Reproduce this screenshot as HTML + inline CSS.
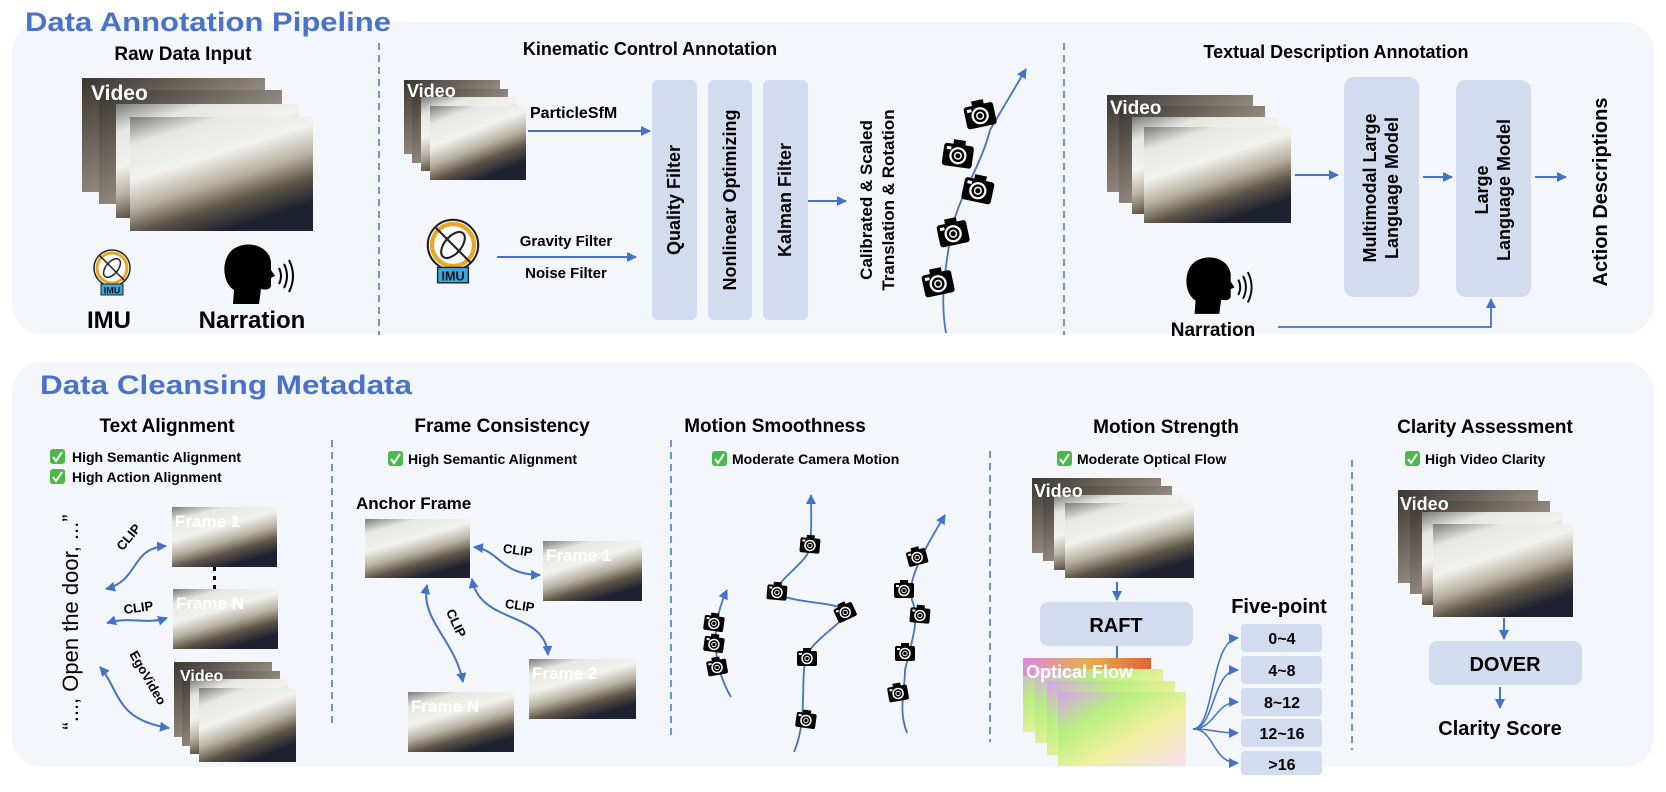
<!DOCTYPE html>
<html><head><meta charset="utf-8"><style>
html,body{margin:0;padding:0;background:#fff;}
svg{display:block;font-family:"Liberation Sans",Arial,sans-serif;}
.t{font-weight:bold;fill:#000;}
.fl{font-weight:bold;fill:#fff;font-size:17px;}
</style></head><body>
<svg width="1666" height="792" viewBox="0 0 1666 792" xmlns="http://www.w3.org/2000/svg">
<defs>
<marker id="a" markerWidth="10" markerHeight="10" refX="9" refY="5" orient="auto-start-reverse" markerUnits="userSpaceOnUse"><path d="M0,0 L10,5 L0,10 Z" fill="#4472c4"/></marker>
<linearGradient id="fr" x1="0" y1="0" x2="0.5" y2="1">
<stop offset="0" stop-color="#7a7a7a"/><stop offset="0.2" stop-color="#e6e6e2"/><stop offset="0.45" stop-color="#f2f2ee"/><stop offset="0.65" stop-color="#b8b0a0"/><stop offset="0.82" stop-color="#5e5548"/><stop offset="1" stop-color="#1e2230"/></linearGradient>
<linearGradient id="bk" x1="0" y1="0" x2="1" y2="1">
<stop offset="0" stop-color="#3a3530"/><stop offset="0.5" stop-color="#8a8278"/><stop offset="1" stop-color="#cfcac2"/></linearGradient>
<linearGradient id="of" x1="0" y1="0" x2="1" y2="1">
<stop offset="0" stop-color="#d9a0f0"/><stop offset="0.3" stop-color="#b8f080"/><stop offset="0.6" stop-color="#f0f0a0"/><stop offset="1" stop-color="#f8e0f0"/></linearGradient>
<linearGradient id="of2" x1="0" y1="0" x2="1" y2="0">
<stop offset="0" stop-color="#e080e0"/><stop offset="0.5" stop-color="#f0a040"/><stop offset="1" stop-color="#e04020"/></linearGradient>
<g id="cam"><rect x="-10" y="-7" width="20" height="15" rx="2" fill="#000"/><rect x="-4" y="-10" width="8" height="4" fill="#000"/><circle cx="0" cy="0.5" r="5" fill="#000" stroke="#fff" stroke-width="1.5"/><circle cx="0" cy="0.5" r="2.2" fill="none" stroke="#fff" stroke-width="1"/><rect x="-8" y="-5" width="3" height="2" fill="#fff"/></g>
<g id="imu"><circle cx="0" cy="0" r="18" fill="#fff" stroke="#222" stroke-width="1.5"/><circle cx="0" cy="0" r="15" fill="none" stroke="#e8a826" stroke-width="3"/><ellipse cx="0" cy="0" rx="6" ry="11" transform="rotate(40)" fill="none" stroke="#222" stroke-width="1.5"/><line x1="-13" y1="-13" x2="13" y2="13" stroke="#222" stroke-width="1.5"/><rect x="-11" y="16" width="22" height="11" fill="#3aa8e0" stroke="#222" stroke-width="1"/><text x="0" y="25.5" font-size="9" text-anchor="middle" fill="#111" font-weight="bold">IMU</text></g>
<g id="head"><path d="M8 62 L9 48 C-4 40 -4 14 10 6 C24 -2 44 4 46 20 L46 28 L50 34 L46 36 L46 44 C45 48 40 48 36 47 L34 62 Z" fill="#000"/><path d="M54 26 Q58 34 54 42" stroke="#000" stroke-width="2" fill="none"/><path d="M59 22 Q65 34 59 46" stroke="#000" stroke-width="2" fill="none"/><path d="M64 18 Q72 34 64 50" stroke="#000" stroke-width="2" fill="none"/></g>
<g id="chk"><rect x="0" y="0" width="15" height="15" rx="3" fill="#4cb84a"/><path d="M3 8 L6 12 L12 3" stroke="#fff" stroke-width="2" fill="none"/></g>
</defs>

<rect x="12" y="22" width="1642" height="312" rx="30" fill="#f3f6fb"/>
<rect x="12" y="362" width="1642" height="405" rx="30" fill="#f3f6fb"/>
<text x="25" y="31" font-size="27" font-weight="bold" fill="#4a72c8" textLength="366" lengthAdjust="spacingAndGlyphs">Data Annotation Pipeline</text>
<text x="40" y="394" font-size="27" font-weight="bold" fill="#4a72c8" textLength="372" lengthAdjust="spacingAndGlyphs">Data Cleansing Metadata</text>

<g stroke="#4472c4" stroke-width="1.5" stroke-dasharray="7,5">
<line x1="379" y1="43" x2="379" y2="335"/><line x1="1064" y1="43" x2="1064" y2="335"/>
<line x1="332" y1="440" x2="332" y2="728"/><line x1="671" y1="440" x2="671" y2="738"/>
<line x1="990" y1="451" x2="990" y2="742"/><line x1="1352" y1="460" x2="1352" y2="750"/>
</g>

<text class="t" x="183" y="60" font-size="19" text-anchor="middle">Raw Data Input</text>
<rect x="82" y="78" width="183" height="114" fill="url(#bk)"/>
<rect x="99" y="90" width="183" height="114" fill="url(#bk)"/>
<rect x="116" y="104" width="183" height="114" fill="url(#fr)"/>
<rect x="130" y="117" width="183" height="114" fill="url(#fr)"/>
<text x="91" y="100" font-size="21" font-weight="bold" fill="#fff">Video</text>
<use href="#imu" transform="translate(112 268)"/>
<text class="t" x="109" y="328" font-size="24" text-anchor="middle">IMU</text>
<use href="#head" transform="translate(225 242)"/>
<text class="t" x="252" y="328" font-size="24" text-anchor="middle">Narration</text>

<text class="t" x="650" y="55" font-size="18" text-anchor="middle">Kinematic Control Annotation</text>
<rect x="404" y="80" width="96" height="74" fill="url(#bk)"/>
<rect x="412" y="89" width="96" height="74" fill="url(#bk)"/>
<rect x="421" y="97" width="96" height="74" fill="url(#fr)"/>
<rect x="430" y="106" width="96" height="74" fill="url(#fr)"/>
<text x="407" y="97" font-size="18" font-weight="bold" fill="#fff">Video</text>
<text class="t" x="530" y="118" font-size="16">ParticleSfM</text>
<line x1="528" y1="131" x2="650" y2="131" stroke="#4472c4" stroke-width="2" marker-end="url(#a)"/>
<use href="#imu" transform="translate(453 245) scale(1.4)"/>
<text class="t" x="566" y="246" font-size="15" text-anchor="middle">Gravity Filter</text>
<line x1="497" y1="257" x2="636" y2="257" stroke="#4472c4" stroke-width="2" marker-end="url(#a)"/>
<text class="t" x="566" y="278" font-size="15" text-anchor="middle">Noise Filter</text>
<rect x="652" y="80" width="45" height="240" rx="6" fill="#d3dbee"/>
<rect x="708" y="80" width="44" height="240" rx="6" fill="#d3dbee"/>
<rect x="763" y="80" width="45" height="240" rx="6" fill="#d3dbee"/>
<text class="t" font-size="18" text-anchor="middle" dominant-baseline="central" transform="translate(674 200) rotate(-90)">Quality Filter</text>
<text class="t" font-size="18" text-anchor="middle" dominant-baseline="central" transform="translate(730 200) rotate(-90)">Nonlinear Optimizing</text>
<text class="t" font-size="18" text-anchor="middle" dominant-baseline="central" transform="translate(785 200) rotate(-90)">Kalman Filter</text>
<line x1="808" y1="201" x2="846" y2="201" stroke="#4472c4" stroke-width="2" marker-end="url(#a)"/>
<text class="t" font-size="17" text-anchor="middle" transform="translate(872 200) rotate(-90)">Calibrated &amp; Scaled</text>
<text class="t" font-size="17" text-anchor="middle" transform="translate(894 200) rotate(-90)">Translation &amp; Rotation</text>
<path d="M946 333 C940 300 945 270 950 240 C955 200 980 170 990 130 L1026 69" stroke="#4472c4" stroke-width="1.8" fill="none" marker-end="url(#a)"/>
<use href="#cam" transform="translate(938 283) rotate(-12) scale(1.5)"/>
<use href="#cam" transform="translate(953 233) rotate(-12) scale(1.5)"/>
<use href="#cam" transform="translate(978 190) rotate(12) scale(1.5)"/>
<use href="#cam" transform="translate(958 155) rotate(8) scale(1.5)"/>
<use href="#cam" transform="translate(980 115) rotate(-12) scale(1.5)"/>

<text class="t" x="1336" y="58" font-size="18" text-anchor="middle">Textual Description Annotation</text>
<rect x="1107" y="95" width="146" height="97" fill="url(#bk)"/>
<rect x="1119" y="106" width="146" height="97" fill="url(#bk)"/>
<rect x="1132" y="117" width="146" height="97" fill="url(#fr)"/>
<rect x="1144" y="127" width="147" height="96" fill="url(#fr)"/>
<text x="1110" y="114" font-size="19" font-weight="bold" fill="#fff">Video</text>
<line x1="1295" y1="175" x2="1338" y2="175" stroke="#4472c4" stroke-width="2" marker-end="url(#a)"/>
<rect x="1344" y="77" width="75" height="220" rx="10" fill="#d3dbee"/>
<text class="t" font-size="18" text-anchor="middle" transform="translate(1376 188) rotate(-90)">Multimodal Large</text>
<text class="t" font-size="18" text-anchor="middle" transform="translate(1398 188) rotate(-90)">Language Model</text>
<line x1="1423" y1="177" x2="1452" y2="177" stroke="#4472c4" stroke-width="2" marker-end="url(#a)"/>
<rect x="1456" y="80" width="75" height="217" rx="10" fill="#d3dbee"/>
<text class="t" font-size="18" text-anchor="middle" transform="translate(1488 190) rotate(-90)">Large</text>
<text class="t" font-size="18" text-anchor="middle" transform="translate(1510 190) rotate(-90)">Language Model</text>
<line x1="1535" y1="177" x2="1566" y2="177" stroke="#4472c4" stroke-width="2" marker-end="url(#a)"/>
<text class="t" font-size="20" text-anchor="middle" transform="translate(1607 192) rotate(-90)">Action Descriptions</text>
<use href="#head" transform="translate(1187 255) scale(0.95)"/>
<text class="t" x="1213" y="336" font-size="19" text-anchor="middle">Narration</text>
<path d="M1278 327 L1491 327 L1491 299" stroke="#4472c4" stroke-width="1.8" fill="none" marker-end="url(#a)"/>

<text class="t" x="167" y="432" font-size="19" text-anchor="middle">Text Alignment</text>
<use href="#chk" x="50" y="449"/><text class="t" x="72" y="462" font-size="14">High Semantic Alignment</text>
<use href="#chk" x="50" y="469"/><text class="t" x="72" y="482" font-size="14">High Action Alignment</text>
<text font-size="22" text-anchor="middle" transform="translate(78 622) rotate(-90)" fill="#000">“..., Open the door, ...”</text>
<rect x="172" y="507" width="105" height="60" fill="url(#fr)"/>
<text class="fl" x="175" y="527">Frame 1</text>
<g fill="#000"><rect x="213" y="567" width="3" height="4"/><rect x="213" y="576" width="3" height="4"/><rect x="213" y="585" width="3" height="4"/></g>
<rect x="173" y="589" width="105" height="60" fill="url(#fr)"/>
<text class="fl" x="176" y="609">Frame N</text>
<rect x="174" y="662" width="98" height="75" fill="url(#bk)"/>
<rect x="182" y="671" width="98" height="75" fill="url(#bk)"/>
<rect x="190" y="679" width="98" height="75" fill="url(#fr)"/>
<rect x="199" y="688" width="97" height="74" fill="url(#fr)"/>
<text x="180" y="681" font-size="16" font-weight="bold" fill="#fff">Video</text>
<path d="M106 589 C140 580 130 548 166 546" stroke="#4472c4" stroke-width="2" fill="none" marker-start="url(#a)" marker-end="url(#a)"/>
<text class="t" font-size="13" text-anchor="middle" transform="translate(132 540) rotate(-50)">CLIP</text>
<path d="M107 623 C130 616 145 625 167 618" stroke="#4472c4" stroke-width="2" fill="none" marker-start="url(#a)" marker-end="url(#a)"/>
<text class="t" font-size="13" text-anchor="middle" transform="translate(139 612) rotate(-8)">CLIP</text>
<path d="M100 667 C120 690 115 720 169 728" stroke="#4472c4" stroke-width="2" fill="none" marker-start="url(#a)" marker-end="url(#a)"/>
<text class="t" font-size="13" text-anchor="middle" transform="translate(144 680) rotate(60)">EgoVideo</text>

<text class="t" x="502" y="432" font-size="19" text-anchor="middle">Frame Consistency</text>
<use href="#chk" x="388" y="451"/><text class="t" x="408" y="464" font-size="14">High Semantic Alignment</text>
<text class="t" x="356" y="509" font-size="17">Anchor Frame</text>
<rect x="365" y="519" width="105" height="59" fill="url(#fr)"/>
<rect x="543" y="541" width="99" height="60" fill="url(#fr)"/>
<text class="fl" x="546" y="561">Frame 1</text>
<rect x="529" y="659" width="107" height="60" fill="url(#fr)"/>
<text class="fl" x="532" y="679">Frame 2</text>
<rect x="408" y="692" width="106" height="60" fill="url(#fr)"/>
<text class="fl" x="411" y="712">Frame N</text>
<path d="M474 547 C500 550 500 575 540 575" stroke="#4472c4" stroke-width="2" fill="none" marker-start="url(#a)" marker-end="url(#a)"/>
<text class="t" x="503" y="555" font-size="13" transform="rotate(8 520 550)">CLIP</text>
<path d="M427 585 C420 620 455 640 463 682" stroke="#4472c4" stroke-width="2" fill="none" marker-start="url(#a)" marker-end="url(#a)"/>
<text class="t" font-size="13" text-anchor="middle" transform="translate(452 625) rotate(65)">CLIP</text>
<path d="M472 579 C480 625 545 610 548 655" stroke="#4472c4" stroke-width="2" fill="none" marker-start="url(#a)" marker-end="url(#a)"/>
<text class="t" x="505" y="610" font-size="13" transform="rotate(8 520 605)">CLIP</text>

<text class="t" x="775" y="432" font-size="19" text-anchor="middle">Motion Smoothness</text>
<use href="#chk" x="712" y="451"/><text class="t" x="732" y="464" font-size="14">Moderate Camera Motion</text>
<g stroke="#4472c4" stroke-width="1.8" fill="none">
<path d="M731 697 C715 670 708 630 727 590" marker-end="url(#a)"/>
<path d="M794 752 C808 720 800 680 806 658 C810 640 850 620 844 612 C840 600 790 605 777 592 C775 580 812 560 810 545 C812 530 811 510 811 495" marker-end="url(#a)"/>
<path d="M907 733 C898 710 905 690 905 670 C912 640 920 620 912 600 C905 580 930 540 945 515" marker-end="url(#a)"/>
</g>
<use href="#cam" transform="translate(714 623) rotate(8)"/>
<use href="#cam" transform="translate(714 644) rotate(8)"/>
<use href="#cam" transform="translate(717 667) rotate(-10)"/>
<use href="#cam" transform="translate(806 720) rotate(8)"/>
<use href="#cam" transform="translate(807 658)"/>
<use href="#cam" transform="translate(845 612) rotate(-25)"/>
<use href="#cam" transform="translate(777 592) rotate(5)"/>
<use href="#cam" transform="translate(810 545) rotate(5)"/>
<use href="#cam" transform="translate(898 693) rotate(-10)"/>
<use href="#cam" transform="translate(905 653)"/>
<use href="#cam" transform="translate(920 615) rotate(5)"/>
<use href="#cam" transform="translate(904 590)"/>
<use href="#cam" transform="translate(917 557) rotate(-15)"/>

<text class="t" x="1166" y="433" font-size="19" text-anchor="middle">Motion Strength</text>
<use href="#chk" x="1057" y="451"/><text class="t" x="1077" y="464" font-size="14">Moderate Optical Flow</text>
<rect x="1032" y="478" width="129" height="75" fill="url(#bk)"/>
<rect x="1043" y="486" width="129" height="75" fill="url(#bk)"/>
<rect x="1054" y="495" width="129" height="75" fill="url(#fr)"/>
<rect x="1065" y="503" width="129" height="75" fill="url(#fr)"/>
<text x="1034" y="497" font-size="18" font-weight="bold" fill="#fff">Video</text>
<line x1="1117" y1="582" x2="1117" y2="600" stroke="#4472c4" stroke-width="2" marker-end="url(#a)"/>
<rect x="1040" y="602" width="153" height="44" rx="8" fill="#d3dbee"/>
<text class="t" x="1116" y="632" font-size="20" text-anchor="middle">RAFT</text>
<line x1="1117" y1="646" x2="1117" y2="662" stroke="#4472c4" stroke-width="2"/>
<rect x="1023" y="658" width="128" height="74" fill="url(#of)"/>
<rect x="1023" y="658" width="128" height="18" fill="url(#of2)" opacity="0.8"/>
<rect x="1035" y="669" width="128" height="74" fill="url(#of)"/>
<rect x="1047" y="681" width="128" height="74" fill="url(#of)"/>
<rect x="1058" y="692" width="128" height="74" fill="url(#of)"/>
<text x="1026" y="678" font-size="18" font-weight="bold" fill="#fff">Optical Flow</text>
<text class="t" x="1279" y="613" font-size="20" text-anchor="middle">Five-point</text>
<g fill="#d3dbee"><rect x="1241" y="624" width="81" height="28" rx="4"/><rect x="1241" y="656" width="81" height="28" rx="4"/><rect x="1241" y="688" width="81" height="28" rx="4"/><rect x="1241" y="719" width="81" height="28" rx="4"/><rect x="1241" y="751" width="81" height="24" rx="4"/></g>
<g class="t" font-size="16" text-anchor="middle"><text x="1282" y="644">0~4</text><text x="1282" y="676">4~8</text><text x="1282" y="708">8~12</text><text x="1282" y="739">12~16</text><text x="1282" y="770">&gt;16</text></g>
<g stroke="#4472c4" stroke-width="1.5" fill="none">
<path d="M1193 729 C1215 729 1210 640 1238 638" marker-end="url(#a)"/>
<path d="M1193 729 C1215 729 1212 670 1238 670" marker-end="url(#a)"/>
<path d="M1193 729 C1215 729 1215 702 1238 702" marker-end="url(#a)"/>
<path d="M1193 729 C1215 729 1215 733 1238 733" marker-end="url(#a)"/>
<path d="M1193 729 C1215 729 1212 763 1238 763" marker-end="url(#a)"/>
</g>

<text class="t" x="1485" y="433" font-size="19" text-anchor="middle">Clarity Assessment</text>
<use href="#chk" x="1405" y="451"/><text class="t" x="1425" y="464" font-size="14">High Video Clarity</text>
<rect x="1398" y="490" width="140" height="93" fill="url(#bk)"/>
<rect x="1410" y="501" width="140" height="93" fill="url(#bk)"/>
<rect x="1422" y="512" width="140" height="93" fill="url(#fr)"/>
<rect x="1433" y="524" width="140" height="93" fill="url(#fr)"/>
<text x="1400" y="510" font-size="18" font-weight="bold" fill="#fff">Video</text>
<line x1="1504" y1="618" x2="1504" y2="639" stroke="#4472c4" stroke-width="2" marker-end="url(#a)"/>
<rect x="1429" y="641" width="153" height="44" rx="8" fill="#d3dbee"/>
<text class="t" x="1505" y="671" font-size="20" text-anchor="middle">DOVER</text>
<line x1="1500" y1="687" x2="1500" y2="708" stroke="#4472c4" stroke-width="2" marker-end="url(#a)"/>
<text class="t" x="1500" y="735" font-size="20" text-anchor="middle">Clarity Score</text>
</svg>
</body></html>
